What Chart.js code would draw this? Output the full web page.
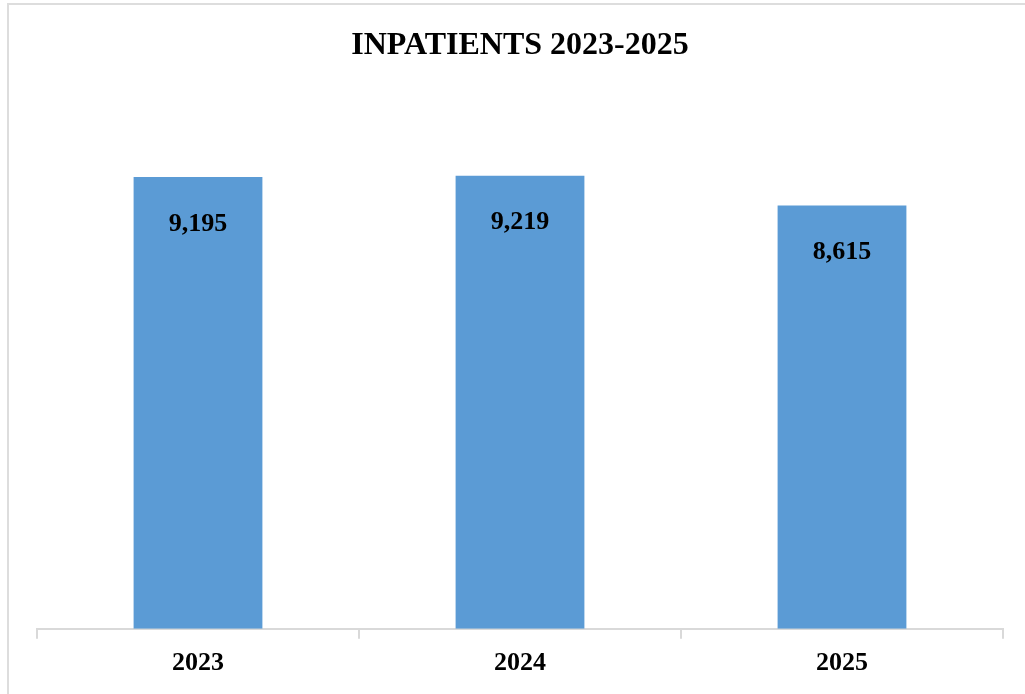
<!DOCTYPE html>
<html>
<head>
<meta charset="utf-8">
<title>Inpatients 2023-2025</title>
<script src="https://cdn.jsdelivr.net/npm/chart.js@4.4.1/dist/chart.umd.min.js"></script>
<style>
	body {
		margin: 0;
		background: #ffffff;
		overflow: hidden;
	}
	#marco {
		position: absolute;
		left: 7px;
		top: 3px;
		width: 1200px;
		height: 900px;
		border: 2px solid #dddddd;
	}
	#contenedor {
		position: absolute;
		left: 0;
		top: 0;
		width: 1025px;
		height: 694px;
	}
</style>
</head>
<body>
<div id="marco"></div>
<div id="contenedor">
	<canvas id="myChartInpatients"></canvas>
</div>
<script>
// datos del grafico
let labels_years = ["2023", "2024", "2025"];
let data_inpatients = [9195, 9219, 8615];
let chartTitle = "INPATIENTS 2023-2025";

// etiquetas dentro de la barra, cerca del borde superior
const valueLabels = {
	id: "valueLabels",
	afterDatasetsDraw(chart) {
		const ctx = chart.ctx;
		const meta = chart.getDatasetMeta(0);
		ctx.save();
		ctx.font = "bold 26px 'Liberation Serif', 'Times New Roman', serif";
		ctx.fillStyle = "#000000";
		ctx.textAlign = "center";
		ctx.textBaseline = "middle";
		meta.data.forEach((bar, i) => {
			let txt = data_inpatients[i].toLocaleString("en-US");
			ctx.fillText(txt, bar.x, bar.y + 47);
		});
		ctx.restore();
	}
};

const ctx1 = document.getElementById("myChartInpatients").getContext("2d");

let myChartInpatients = new Chart(ctx1, {
	type: "bar",
	data: {
		labels: labels_years,
		datasets: [
			{
				label: "Inpatients",
				data: data_inpatients,
				backgroundColor: "#5b9bd5",
				borderWidth: 0,
				barPercentage: 0.4,
				categoryPercentage: 1.0,
			}
		],
	},
	options: {
		responsive: true,
		maintainAspectRatio: false,
		animation: false,
		layout: {
			padding: {
				top: 0,
				left: 37,
				right: 22,
				bottom: 6,
			}
		},
		scales: {
			y: {
				display: false,
				min: 0,
				max: 10000,
			},
			x: {
				grid: {
					display: true,
					drawOnChartArea: false,
					drawTicks: true,
					tickLength: 10,
					color: "#d9d9d9",
					lineWidth: 2,
				},
				border: {
					display: true,
					color: "#d9d9d9",
					width: 2,
				},
				ticks: {
					color: "#000000",
					padding: 9,
					font: {
						family: "'Liberation Serif', 'Times New Roman', serif",
						size: 26,
						weight: "bold",
					}
				}
			}
		},
		plugins: {
			legend: {
				display: false
			},
			tooltip: {
				enabled: false
			},
			title: {
				display: true,
				text: chartTitle,
				color: "#000000",
				font: {
					family: "'Liberation Serif', 'Times New Roman', serif",
					size: 32,
					weight: "bold",
					lineHeight: 1.2,
				},
				padding: {
					top: 27,
					bottom: 72,
				}
			}
		}
	},
	plugins: [valueLabels],
});
</script>
</body>
</html>
